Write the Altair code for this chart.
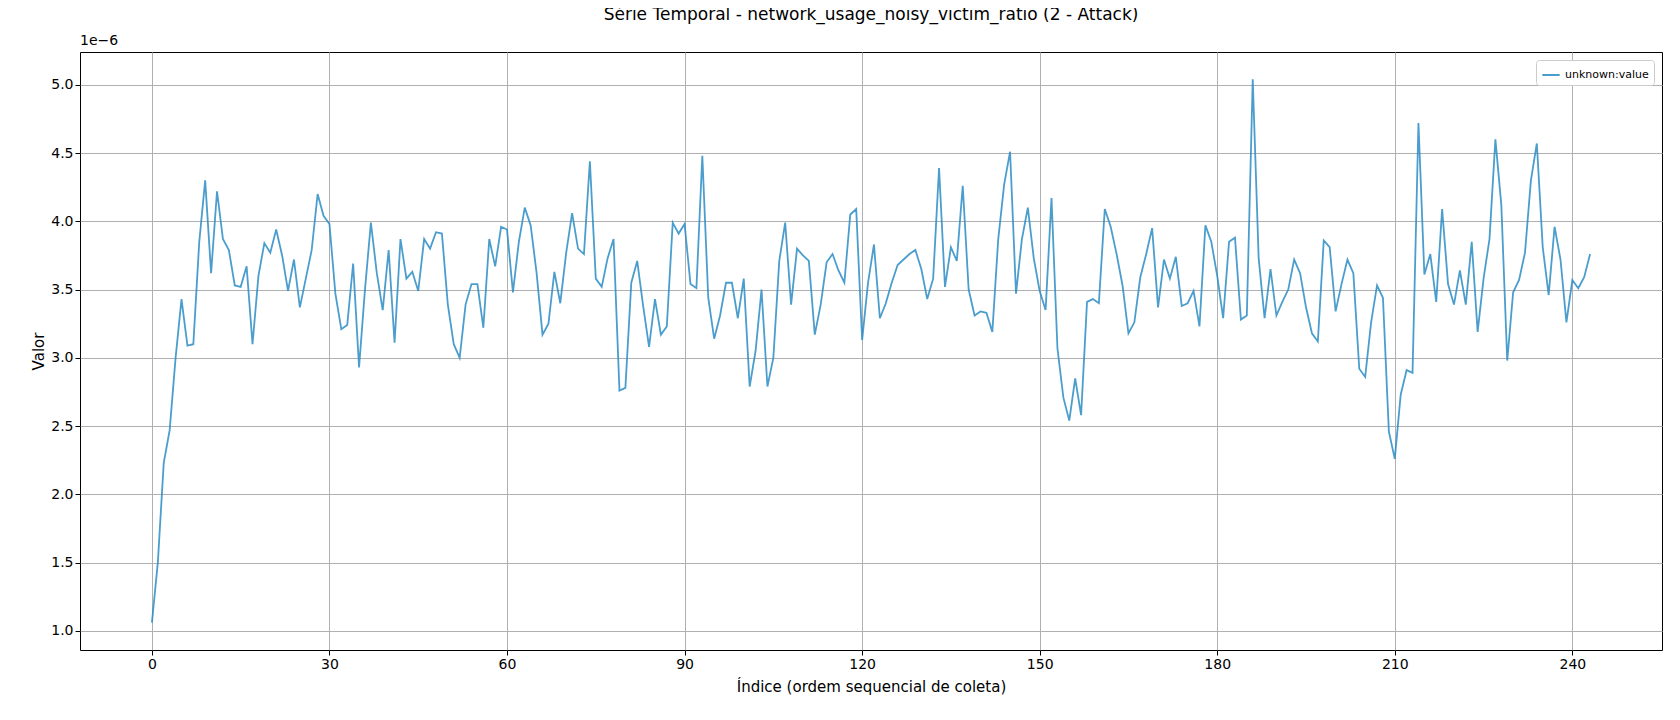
import altair as alt
import pandas as pd

values = [
    1.06, 1.50, 2.23, 2.47, 3.00, 3.43, 3.09, 3.10, 3.85, 4.30,
    3.62, 4.22, 3.87, 3.79, 3.53, 3.52, 3.67, 3.10, 3.60, 3.84,
    3.77, 3.94, 3.75, 3.49, 3.72, 3.37, 3.58, 3.79, 4.20, 4.04,
    3.98, 3.47, 3.21, 3.24, 3.69, 2.93, 3.50, 3.99, 3.62, 3.35,
    3.79, 3.11, 3.87, 3.58, 3.63, 3.49, 3.87, 3.80, 3.92, 3.91,
    3.39, 3.10, 3.00, 3.39, 3.54, 3.54, 3.22, 3.87, 3.67, 3.96,
    3.94, 3.48, 3.85, 4.10, 3.97, 3.62, 3.17, 3.25, 3.63, 3.40,
    3.77, 4.06, 3.80, 3.76, 4.44, 3.58, 3.52, 3.73, 3.87, 2.76,
    2.78, 3.55, 3.71, 3.38, 3.08, 3.43, 3.17, 3.23, 3.99, 3.91,
    3.98, 3.54, 3.51, 4.48, 3.44, 3.14, 3.31, 3.55, 3.55, 3.29,
    3.58, 2.79, 3.05, 3.50, 2.79, 3.00, 3.71, 3.99, 3.39, 3.80,
    3.75, 3.71, 3.17, 3.39, 3.70, 3.76, 3.64, 3.55, 4.05, 4.09,
    3.13, 3.55, 3.83, 3.29, 3.40, 3.55, 3.68, 3.72, 3.76, 3.79,
    3.65, 3.43, 3.58, 4.39, 3.52, 3.81, 3.71, 4.26, 3.50, 3.31,
    3.34, 3.33, 3.19, 3.87, 4.27, 4.51, 3.47, 3.87, 4.10, 3.73,
    3.49, 3.35, 4.17, 3.07, 2.71, 2.54, 2.85, 2.58, 3.41, 3.43,
    3.40, 4.09, 3.96, 3.76, 3.53, 3.18, 3.26, 3.59, 3.76, 3.95,
    3.37, 3.72, 3.58, 3.74, 3.38, 3.40, 3.49, 3.23, 3.97, 3.85,
    3.60, 3.29, 3.85, 3.88, 3.28, 3.31, 5.04, 3.73, 3.29, 3.65,
    3.31, 3.41, 3.50, 3.72, 3.62, 3.37, 3.18, 3.12, 3.86, 3.81,
    3.34, 3.54, 3.72, 3.62, 2.92, 2.86, 3.26, 3.53, 3.44, 2.46,
    2.26, 2.73, 2.91, 2.89, 4.72, 3.61, 3.76, 3.41, 4.09, 3.54,
    3.39, 3.64, 3.39, 3.85, 3.19, 3.58, 3.87, 4.60, 4.12, 2.98,
    3.48, 3.57, 3.77, 4.30, 4.57, 3.81, 3.46, 3.96, 3.72, 3.26,
    3.57, 3.51, 3.59, 3.76,
]
x_ticks = [0, 30, 60, 90, 120, 150, 180, 210, 240]
y_ticks = [1.0, 1.5, 2.0, 2.5, 3.0, 3.5, 4.0, 4.5, 5.0]

df = pd.DataFrame({"idx": list(range(len(values))), "val": values,
                   "serie": "unknown:value"})

line = alt.Chart(df).mark_line(strokeWidth=1.8, opacity=0.85, clip=True).encode(
    x=alt.X("idx:Q", scale=alt.Scale(domain=[-12.15, 255.15], nice=False, zero=False),
            axis=alt.Axis(values=x_ticks, title="Índice (ordem sequencial de coleta)",
                          format="d", titlePadding=8)),
    y=alt.Y("val:Q", scale=alt.Scale(domain=[0.86, 5.24], nice=False, zero=False),
            axis=alt.Axis(values=y_ticks, title="Valor", format=".1f")),
    color=alt.Color("serie:N", scale=alt.Scale(range=["#2b8cc4"]),
                    legend=alt.Legend(title=None, orient="top-right", symbolType="stroke",
                                      symbolSize=300, symbolStrokeWidth=2, labelFontSize=11,
                                      strokeColor="#cccccc", fillColor="white", padding=5,
                                      cornerRadius=3, offset=8)),
)

exp = alt.Chart(pd.DataFrame({"t": ["1e−6"]})).mark_text(
    align="left", baseline="bottom", fontSize=14, font="DejaVu Sans").encode(
    x=alt.value(0), y=alt.value(-4), text="t:N")

chart = alt.layer(line, exp).properties(
    width=1582, height=598,
    autosize=alt.AutoSizeParams(type="none"),
    padding={"left": 72, "top": 44, "right": 10, "bottom": 60},
    title=alt.Title("Série Temporal - network_usage_noisy_victim_ratio (2 - Attack)",
                    fontSize=17, fontWeight="normal", font="DejaVu Sans", offset=10),
).configure_axis(
    grid=True, gridColor="#b0b0b0", gridWidth=1, domain=False, tickColor="black",
    labelColor="black", labelFontSize=14, titleFontSize=15, titleFontWeight="normal",
    labelFont="DejaVu Sans", titleFont="DejaVu Sans", tickSize=5, titleColor="black",
).configure_view(stroke="black", strokeWidth=1).configure_legend(labelFont="DejaVu Sans")

chart.save("out.html", embed_options={"renderer": "svg", "actions": False})
